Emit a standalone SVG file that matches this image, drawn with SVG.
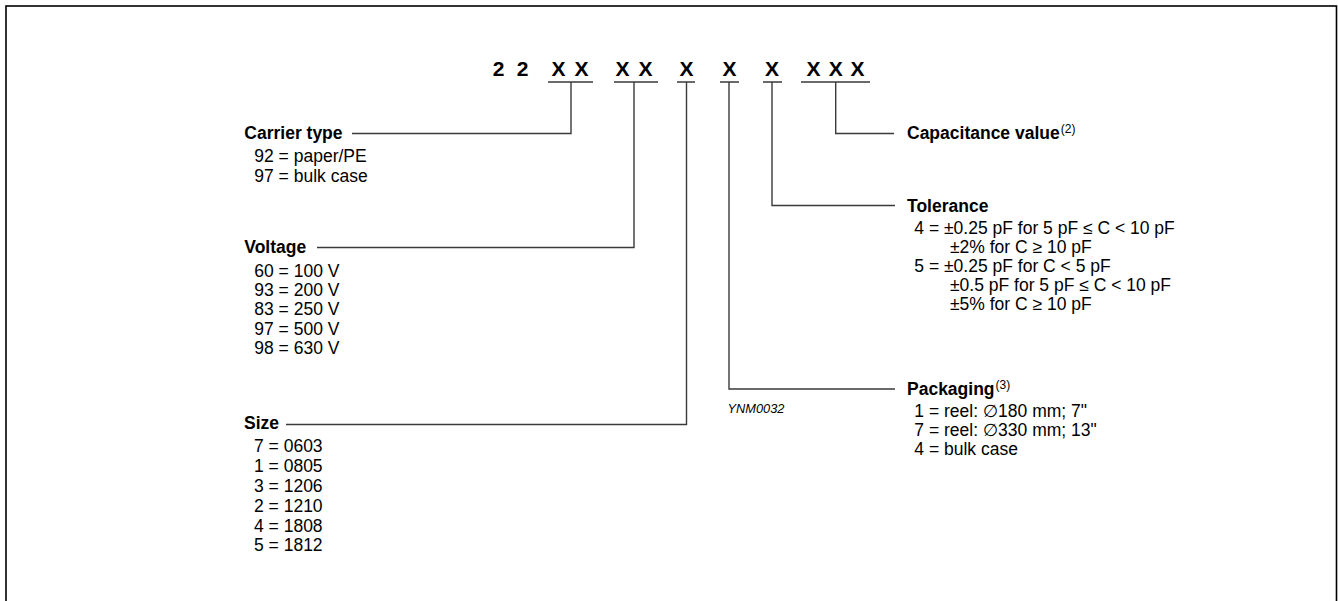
<svg xmlns="http://www.w3.org/2000/svg" width="1338" height="601" viewBox="0 0 1338 601">
<style>
text{font-family:"Liberation Sans",Arial,"DejaVu Sans",sans-serif;fill:#000}
.code{font-size:21px;font-weight:bold;text-anchor:middle}
.lbl{font-size:17.5px;font-weight:bold}
.it{font-size:17.5px}
.sup{font-size:12px;font-weight:normal}
.ref{font-size:12.8px;font-style:italic}
.ln{fill:none;stroke:#3a3a3a;stroke-width:1.4}
</style>
<rect x="6" y="6" width="1330.5" height="610" fill="#fff" stroke="#000" stroke-width="1.6"/>
<g id="code">
<text class="code" x="498.5" y="76">2</text>
<text class="code" x="522.5" y="76">2</text>
<text class="code" x="558.5" y="76">X</text>
<text class="code" x="581.5" y="76">X</text>
<text class="code" x="622.5" y="76">X</text>
<text class="code" x="645.5" y="76">X</text>
<text class="code" x="686.5" y="76">X</text>
<text class="code" x="729.5" y="76">X</text>
<text class="code" x="772" y="76">X</text>
<text class="code" x="813.5" y="76">X</text>
<text class="code" x="835.7" y="76">X</text>
<text class="code" x="857.5" y="76">X</text>
</g>
<g id="connectors">
<path class="ln" d="M548 82H593M614 82H658M677 82H695M720 82H739M763 82H782M801 82H870"/>
<path class="ln" d="M571 82V133.5H352"/>
<path class="ln" d="M634 82V247.5H317"/>
<path class="ln" d="M686.5 82V424.5H286"/>
<path class="ln" d="M729 82V389H895"/>
<path class="ln" d="M772 82V205.5H895"/>
<path class="ln" d="M835.7 82V133.5H894"/>
</g>
<g id="carrier">
<text class="lbl" x="244.3" y="139.3">Carrier type</text>
<text class="it" x="254.3" y="162.3">92 = paper/PE</text>
<text class="it" x="254.3" y="181.7">97 = bulk case</text>
</g>
<g id="voltage">
<text class="lbl" x="244.3" y="253.3">Voltage</text>
<text class="it" x="254.3" y="276.7">60 = 100 V</text>
<text class="it" x="254.3" y="296">93 = 200 V</text>
<text class="it" x="254.3" y="315.3">83 = 250 V</text>
<text class="it" x="254.3" y="334.6">97 = 500 V</text>
<text class="it" x="254.3" y="354">98 = 630 V</text>
</g>
<g id="size">
<text class="lbl" x="244" y="429.3">Size</text>
<text class="it" x="254" y="452.3">7 = 0603</text>
<text class="it" x="254" y="472.2">1 = 0805</text>
<text class="it" x="254" y="492">3 = 1206</text>
<text class="it" x="254" y="511.7">2 = 1210</text>
<text class="it" x="254" y="531.5">4 = 1808</text>
<text class="it" x="254" y="551.3">5 = 1812</text>
</g>
<g id="capacitance">
<text class="lbl" x="907" y="139">Capacitance value<tspan class="sup" dx="1" dy="-6">(2)</tspan></text>
</g>
<g id="tolerance">
<text class="lbl" x="907" y="211.7">Tolerance</text>
<text class="it" x="914.3" y="234">4 = ±0.25 pF for 5 pF ≤ C &lt; 10 pF</text>
<text class="it" x="950" y="252.7">±2% for C ≥ 10 pF</text>
<text class="it" x="914.3" y="271.7">5 = ±0.25 pF for C &lt; 5 pF</text>
<text class="it" x="950" y="290.7">±0.5 pF for 5 pF ≤ C &lt; 10 pF</text>
<text class="it" x="950" y="310">±5% for C ≥ 10 pF</text>
</g>
<g id="packaging">
<text class="lbl" x="907" y="395">Packaging<tspan class="sup" dx="1" dy="-6">(3)</tspan></text>
<text class="it" x="914.3" y="416.7">1 = reel: ∅180 mm; 7"</text>
<text class="it" x="914.3" y="436">7 = reel: ∅330 mm; 13"</text>
<text class="it" x="914.3" y="455">4 = bulk case</text>
</g>
<text id="ref" class="ref" x="727.5" y="413.3">YNM0032</text>
</svg>
